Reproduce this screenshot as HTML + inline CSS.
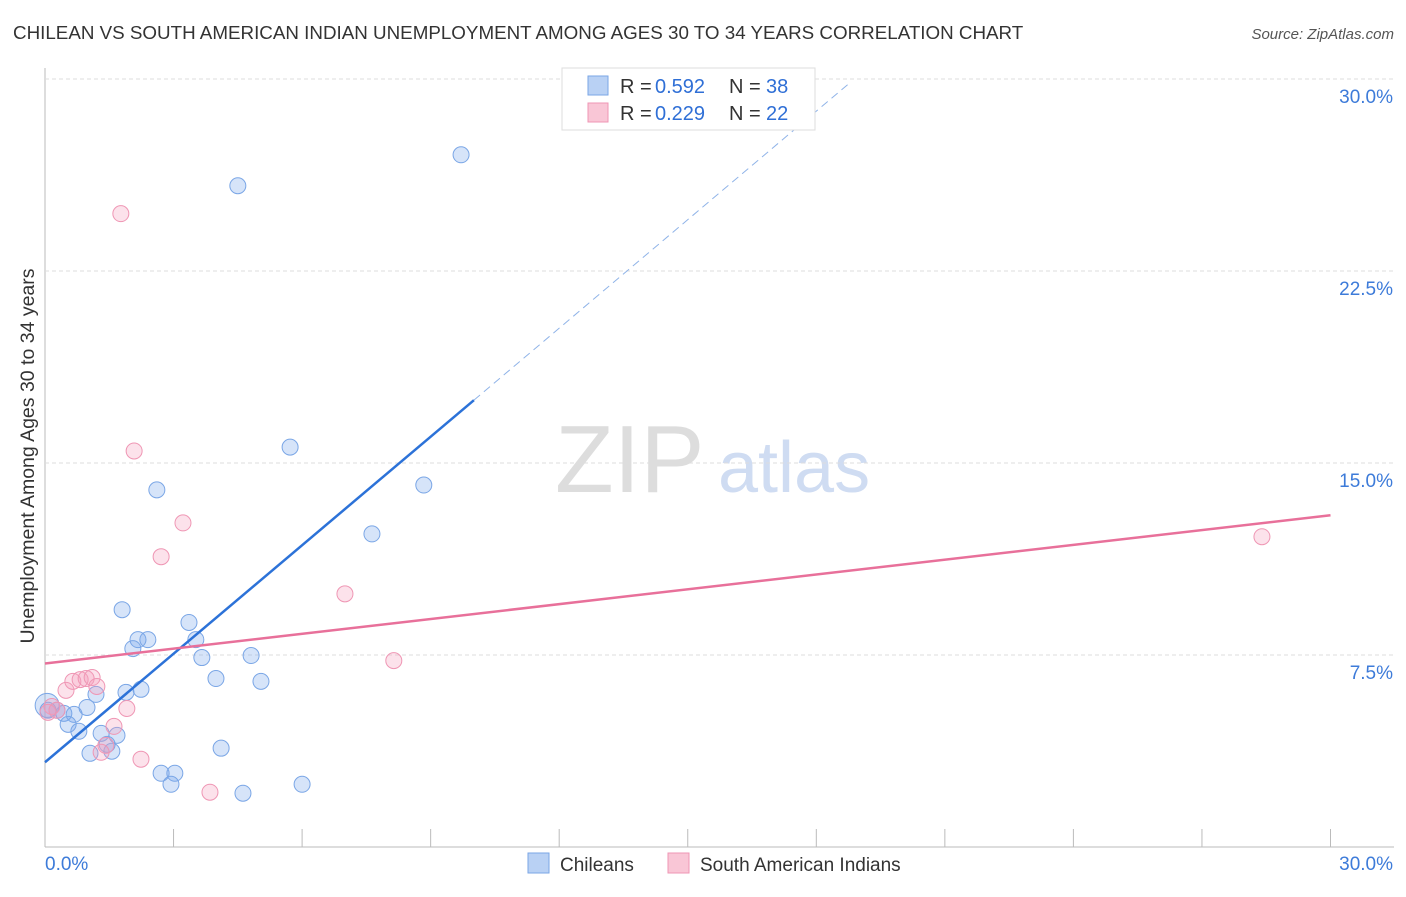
<!DOCTYPE html>
<html><head><meta charset="utf-8"><style>
body{margin:0;background:#fff;font-family:"Liberation Sans",sans-serif}
svg text{font-family:"Liberation Sans",sans-serif}
</style></head><body>
<svg id="c" width="1406" height="892" xmlns="http://www.w3.org/2000/svg">
<text x="13" y="39" font-size="18.8" fill="#333">CHILEAN VS SOUTH AMERICAN INDIAN UNEMPLOYMENT AMONG AGES 30 TO 34 YEARS CORRELATION CHART</text>
<text x="1394" y="39" font-size="15" fill="#555" font-style="italic" text-anchor="end">Source: ZipAtlas.com</text>
<text x="555" y="492" font-size="96" fill="#ddd" font-family="Liberation Serif">ZIP</text>
<text x="718" y="492" font-size="72" fill="#cfdcf2">atlas</text>
<text transform="translate(34,456) rotate(-90)" font-size="19.5" fill="#333" text-anchor="middle">Unemployment Among Ages 30 to 34 years</text>
<g id="grid"></g><g id="pts"></g><g id="lines"></g>
<g>
<rect x="562" y="68" width="253" height="62" fill="#fff" stroke="#ddd"/>
<rect x="588" y="76" width="20" height="19" fill="#b9d1f4" stroke="#7aa6e6"/>
<text x="620" y="93" font-size="20" fill="#333">R =</text><text x="655" y="93" font-size="20" fill="#2f6fd6">0.592</text>
<text x="729" y="93" font-size="20" fill="#333">N =</text><text x="766" y="93" font-size="20" fill="#2f6fd6">38</text>
<rect x="588" y="103" width="20" height="19" fill="#f9c6d6" stroke="#ef96b4"/>
<text x="620" y="120" font-size="20" fill="#333">R =</text><text x="655" y="120" font-size="20" fill="#2f6fd6">0.229</text>
<text x="729" y="120" font-size="20" fill="#333">N =</text><text x="766" y="120" font-size="20" fill="#2f6fd6">22</text>
</g>
<g>
<rect x="528" y="853" width="21" height="20" fill="#b9d1f4" stroke="#7aa6e6"/>
<text x="560" y="871" font-size="19" fill="#333">Chileans</text>
<rect x="668" y="853" width="21" height="20" fill="#f9c6d6" stroke="#ef96b4"/>
<text x="700" y="871" font-size="19" fill="#333">South American Indians</text>
</g>
</svg>
<script>
const blueX=[9.71,4.50,5.72,2.61,8.84,7.63,1.80,3.36,2.17,2.40,3.52,2.05,3.66,4.81,3.99,5.04,1.89,2.24,1.19,0.05,0.28,0.44,0.98,0.68,0.54,0.79,1.31,1.68,1.45,1.56,1.05,4.11,2.71,3.03,2.94,4.62,6.00,0.07];
const blueY=[27.04,25.83,15.62,13.95,14.14,12.23,9.27,8.77,8.10,8.10,8.10,7.75,7.40,7.48,6.58,6.47,6.04,6.16,5.96,5.53,5.34,5.22,5.45,5.18,4.79,4.52,4.44,4.36,4.01,3.74,3.66,3.86,2.88,2.88,2.45,2.10,2.45,5.34];
const pinkX=[1.77,2.08,3.22,2.71,7.00,8.14,28.40,0.49,0.65,0.82,0.96,1.10,1.21,0.16,0.28,1.91,1.61,1.42,1.31,2.24,3.85,0.07];
const pinkY=[24.74,15.47,12.66,11.34,9.89,7.28,12.12,6.12,6.47,6.54,6.58,6.62,6.27,5.49,5.34,5.41,4.71,3.97,3.70,3.43,2.14,5.26];
const yTicks=[7.5,15.0,22.5,30.0];
const blueLine=[3.31,1.413];
const pinkLine=[7.17,0.193];
const NS='http://www.w3.org/2000/svg';
const X=v=>45+v*42.85, Y=v=>847-v*25.6;
function mk(t,a,p){const e=document.createElementNS(NS,t);for(const k in a)e.setAttribute(k,a[k]);document.getElementById(p).appendChild(e);return e;}
let ax=mk('line',{x1:45,y1:68,x2:45,y2:847,stroke:'#bbb'},'grid');


let bx=mk('line',{x1:45,y1:847,x2:1394,y2:847,stroke:'#bbb'},'grid');


for(let i=0;i<=10;i++){let t=mk('line',{x1:X(i*3),y1:829,x2:X(i*3),y2:847,stroke:'#bbb'},'grid');

}
yTicks.forEach(v=>{let g=mk('line',{x1:45,y1:Y(v),x2:1394,y2:Y(v),stroke:'#ddd','stroke-dasharray':'4,3'},'grid');


let t=mk('text',{x:1393,y:Y(v)+24,'font-size':19,fill:'#3d7bd9','text-anchor':'end'},'grid');t.textContent=v.toFixed(1)+'%';

});
let l0=mk('text',{x:45,y:870,'font-size':19,fill:'#3d7bd9'},'grid');l0.textContent='0.0%';


let l1=mk('text',{x:1393,y:870,'font-size':19,fill:'#3d7bd9','text-anchor':'end'},'grid');l1.textContent='30.0%';


blueX.forEach((v,i)=>{let c=mk('circle',{cx:X(v),cy:Y(blueY[i]),r:i==19?12:8,fill:'rgba(120,165,235,0.3)',stroke:'#7aa6e6','stroke-width':1},'pts');

});
pinkX.forEach((v,i)=>{let c=mk('circle',{cx:X(v),cy:Y(pinkY[i]),r:8,fill:'rgba(245,160,190,0.3)',stroke:'#ef96b4','stroke-width':1},'pts');

});
const bEnd=10.01,bMax=(29.9-blueLine[0])/blueLine[1];
let b1=mk('line',{x1:X(0),y1:Y(blueLine[0]),x2:X(bEnd),y2:Y(blueLine[0]+blueLine[1]*bEnd),stroke:'#2c72d8','stroke-width':2.5},'lines');


let b2=mk('line',{x1:X(bEnd),y1:Y(blueLine[0]+blueLine[1]*bEnd),x2:X(bMax),y2:Y(blueLine[0]+blueLine[1]*bMax),stroke:'#8fb3e8','stroke-width':1,'stroke-dasharray':'8,5'},'lines');


let p1=mk('line',{x1:X(0),y1:Y(pinkLine[0]),x2:X(30),y2:Y(pinkLine[0]+pinkLine[1]*30),stroke:'#e8709a','stroke-width':2.5},'lines');


</script>
</body></html>
